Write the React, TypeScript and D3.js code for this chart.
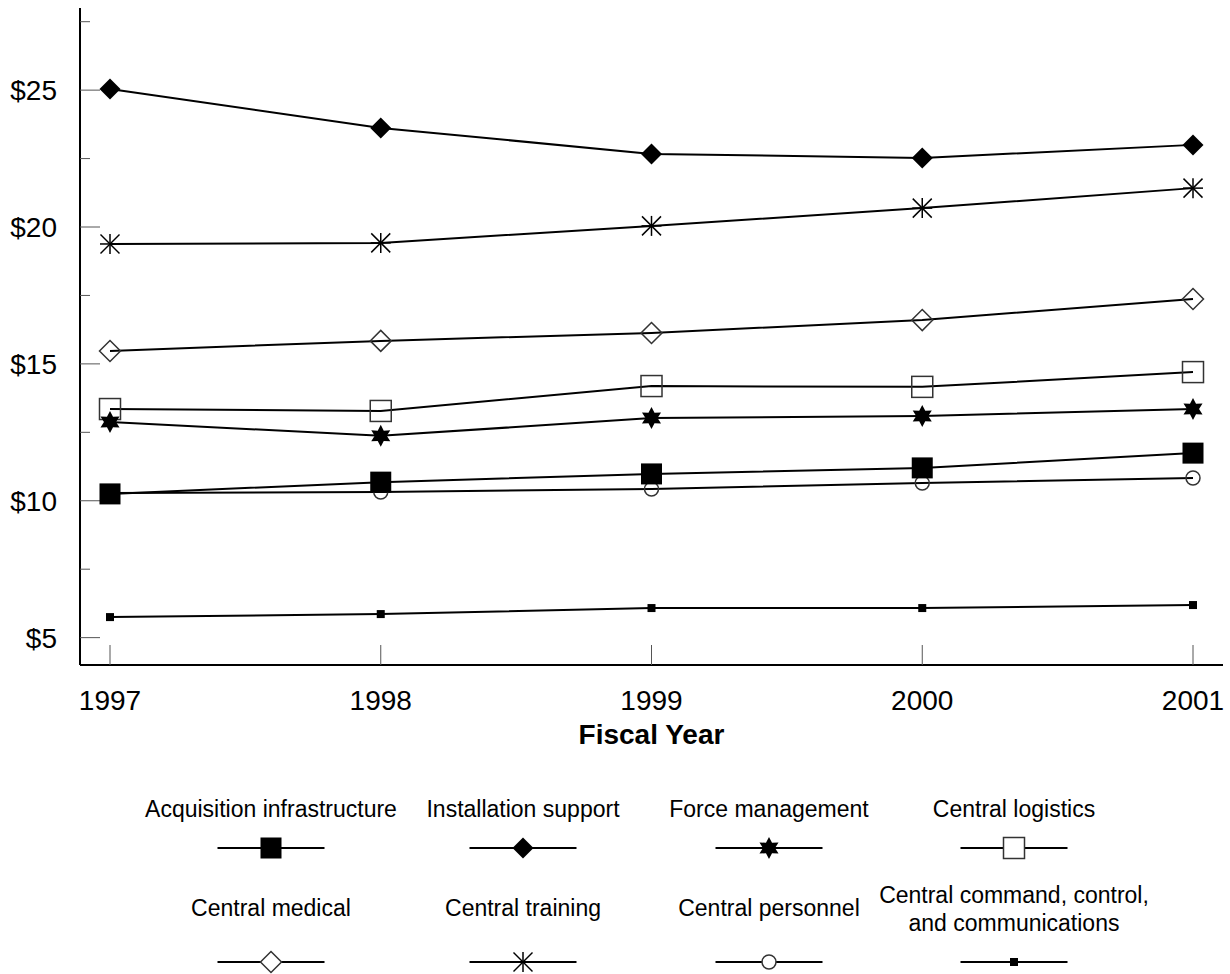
import React from "react";
import * as d3 from "d3";

const years = ["1997", "1998", "1999", "2000", "2001"];
const yTickValues = [5, 10, 15, 20, 25];
const yMinorTicks = [7.5, 12.5, 17.5, 22.5, 27.5];

const acquisition = [10.25, 10.68, 10.98, 11.2, 11.74];
const installation = [25.04, 23.62, 22.67, 22.52, 23.0];
const forceMgmt = [12.88, 12.37, 13.02, 13.1, 13.35];
const logistics = [13.35, 13.28, 14.19, 14.16, 14.7];
const medical = [15.47, 15.84, 16.13, 16.6, 17.37];
const training = [19.38, 19.42, 20.04, 20.69, 21.42];
const personnel = [10.28, 10.32, 10.43, 10.65, 10.83];
const c3 = [5.75, 5.86, 6.08, 6.08, 6.19];

type Kind = "fsquare" | "fdiamond" | "star" | "osquare" | "odiamond" | "asterisk" | "circle" | "small";

const series: { name: string[]; values: number[]; kind: Kind }[] = [
  { name: ["Acquisition infrastructure"], values: acquisition, kind: "fsquare" },
  { name: ["Installation support"], values: installation, kind: "fdiamond" },
  { name: ["Force management"], values: forceMgmt, kind: "star" },
  { name: ["Central logistics"], values: logistics, kind: "osquare" },
  { name: ["Central medical"], values: medical, kind: "odiamond" },
  { name: ["Central training"], values: training, kind: "asterisk" },
  { name: ["Central personnel"], values: personnel, kind: "circle" },
  { name: ["Central command, control,", "and communications"], values: c3, kind: "small" },
];

const drawOrder = [7, 6, 3, 2, 0, 4, 5, 1];

const FONT = "'Liberation Sans', Arial, Helvetica, sans-serif";

function starPath(r: number) {
  const pts: string[] = [];
  const inner = r * 0.55;
  for (let i = 0; i < 12; i++) {
    const a = -Math.PI / 2 + (i * Math.PI) / 6;
    const rr = i % 2 === 0 ? r : inner;
    pts.push(`${(rr * Math.cos(a)).toFixed(2)},${(rr * Math.sin(a)).toFixed(2)}`);
  }
  return "M" + pts.join("L") + "Z";
}

function Marker({ kind, x, y, legend }: { kind: Kind; x: number; y: number; legend?: boolean }) {
  const openFill = legend ? "#fff" : "none";
  const openStroke = "#333";
  switch (kind) {
    case "fsquare":
      return <rect x={x - 10.5} y={y - 10.5} width={21} height={21} fill="#000" />;
    case "fdiamond":
      return <path d={`M${x},${y - 10.5}L${x + 10.5},${y}L${x},${y + 10.5}L${x - 10.5},${y}Z`} fill="#000" />;
    case "star":
      return <path d={starPath(11)} transform={`translate(${x},${y})`} fill="#000" />;
    case "osquare":
      return <rect x={x - 10.5} y={y - 10.5} width={21} height={21} fill={openFill} stroke={openStroke} strokeWidth={1.5} />;
    case "odiamond":
      return (
        <path
          d={`M${x},${y - 10.5}L${x + 10.5},${y}L${x},${y + 10.5}L${x - 10.5},${y}Z`}
          fill={openFill}
          stroke={openStroke}
          strokeWidth={1.5}
        />
      );
    case "asterisk": {
      const r = 10;
      const d = 9.5;
      return (
        <g stroke="#000" strokeWidth={1.5}>
          <line x1={x - r} y1={y} x2={x + r} y2={y} />
          <line x1={x} y1={y - r} x2={x} y2={y + r} />
          <line x1={x - d} y1={y - d} x2={x + d} y2={y + d} />
          <line x1={x - d} y1={y + d} x2={x + d} y2={y - d} />
        </g>
      );
    }
    case "circle":
      return <circle cx={x} cy={y} r={7} fill={openFill} stroke={openStroke} strokeWidth={1.5} />;
    case "small":
      return <rect x={x - 4} y={y - 4} width={8} height={8} fill="#000" />;
  }
}

export default function App() {
  const width = 1230;
  const height = 974;
  const axisLeft = 80;
  const axisRight = 1223;
  const axisTop = 8;
  const axisBottom = 665;

  const x = d3.scalePoint<string>().domain(years).range([110, 1193]);
  const y = d3.scaleLinear().domain([4, 28]).range([axisBottom, axisTop]);
  const line = d3
    .line<number>()
    .x((_, i) => x(years[i]) as number)
    .y((v) => y(v));

  const legendCols = [271, 523, 769, 1014];
  const legendRows = [
    { labelY: 817, markerY: 848 },
    { labelY: 916, markerY: 962 },
  ];

  return (
    <svg
      width={width}
      height={height}
      style={{ position: "absolute", left: 0, top: 0, background: "#fff" }}
      fontFamily={FONT}
    >
      <rect x={0} y={0} width={width} height={height} fill="#fff" />
      {/* axes */}
      <line x1={axisLeft} y1={axisTop} x2={axisLeft} y2={axisBottom} stroke="#000" strokeWidth={2} />
      <line x1={axisLeft} y1={axisBottom} x2={axisRight} y2={axisBottom} stroke="#000" strokeWidth={2} />
      {yTickValues.map((t) => (
        <g key={"yt" + t}>
          <line x1={axisLeft} y1={y(t)} x2={axisLeft + 20} y2={y(t)} stroke="#555" strokeWidth={1} />
          <text x={57} y={y(t)} dy="0.36em" textAnchor="end" fontSize={28} fill="#000">
            {"$" + t}
          </text>
        </g>
      ))}
      {yMinorTicks.map((t) => (
        <line key={"ym" + t} x1={axisLeft} y1={y(t)} x2={axisLeft + 10} y2={y(t)} stroke="#555" strokeWidth={1} />
      ))}
      {years.map((yr) => (
        <g key={"xt" + yr}>
          <line x1={x(yr)} y1={axisBottom} x2={x(yr)} y2={axisBottom - 20} stroke="#555" strokeWidth={1} />
          <text x={x(yr)} y={710} textAnchor="middle" fontSize={28} fill="#000">
            {yr}
          </text>
        </g>
      ))}
      <text x={x("1999")} y={744} textAnchor="middle" fontSize={28} fontWeight="bold" fill="#000">
        Fiscal Year
      </text>

      {/* lines */}
      {drawOrder.map((i) => (
        <path key={"l" + i} d={line(series[i].values) || ""} fill="none" stroke="#000" strokeWidth={2} />
      ))}
      {/* markers */}
      {drawOrder.map((i) => (
        <g key={"m" + i}>
          {series[i].values.map((v, j) => (
            <Marker key={j} kind={series[i].kind} x={x(years[j]) as number} y={y(v)} />
          ))}
        </g>
      ))}

      {/* legend */}
      {series.map((s, i) => {
        const col = legendCols[i % 4];
        const row = legendRows[Math.floor(i / 4)];
        const lines = s.name;
        return (
          <g key={"lg" + i}>
            {lines.length === 1 ? (
              <text x={col} y={row.labelY} textAnchor="middle" fontSize={23} fill="#000">
                {lines[0]}
              </text>
            ) : (
              lines.map((ln, k) => (
                <text key={k} x={col} y={row.labelY - 13 + k * 28} textAnchor="middle" fontSize={23} fill="#000">
                  {ln}
                </text>
              ))
            )}
            <line x1={col - 53.5} y1={row.markerY} x2={col + 53.5} y2={row.markerY} stroke="#000" strokeWidth={2} />
            <Marker kind={s.kind} x={col} y={row.markerY} legend />
          </g>
        );
      })}
    </svg>
  );
}
